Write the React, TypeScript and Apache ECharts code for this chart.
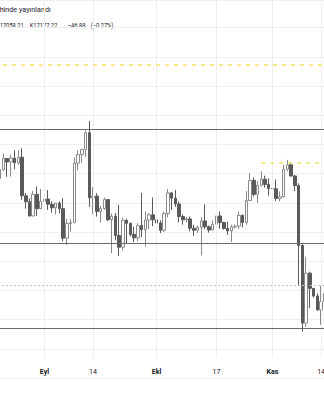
import { useEffect, useRef } from 'react';
import * as echarts from 'echarts';

// Daily candles, first one is 2022-08-19 (one per calendar day)
const FIRST_DAY_UTC = [2022, 7, 19];

const opens = [
  23200, 20830, 21140, 21520, 21400, 21530, 21370, 21560, 20240, 20040, 19550, 20290, 19800,
  20050, 20130, 19950, 19830, 19990, 19800, 18790, 19290, 19320, 21360, 21650, 21830, 22400,
  20170, 20230, 19700, 19800, 20110, 19420, 19540, 18880, 18480, 19400, 19300, 18920, 18800,
  19220, 19080, 19410, 19590,
  19420, 19310, 19060, 19630, 20340, 20160, 19960, 19530, 19420, 19450, 19130, 19060, 19160,
  19380, 19180, 19070, 19270, 19550, 19330, 19120, 19040, 19170, 19200, 19570, 19330, 20080,
  20770, 20290, 20600, 20810, 20630,
  20490, 20480, 20150, 20210, 21150, 21300, 20920, 20590, 18540, 15880, 17590, 17070, 16810,
  16330, 16620,
];
const highs = [
  23210, 21370, 21690, 21520, 21650, 21800, 21800, 21870, 20340, 20150, 20400, 20560, 20470,
  20200, 20440, 20050, 20000, 20050, 20160, 19450, 19450, 21550, 21800, 21850, 22480, 22800,
  20540, 20330, 19900, 20180, 20120, 19630, 19650, 19930, 19490, 19450, 19320, 19180, 19300,
  20340, 19700, 19650, 20180,
  19480, 19400, 19700, 20470, 20360, 20440, 20050, 19600, 19520, 19530, 19250, 19220, 19510,
  19950, 19220, 19400, 19680, 19700, 19350, 19350, 19250, 19250, 19700, 19600, 20400, 21020,
  20870, 20740, 21080, 20930, 20840,
  20700, 20800, 20390, 21300, 21470, 21370, 20960, 20670, 18600, 18150, 17640, 17080, 16900,
  17160, 17050,
];
const lows = [
  20780, 20800, 21100, 20890, 20900, 21150, 21300, 20100, 19800, 19530, 19540, 19550, 19780,
  19630, 19760, 19660, 19600, 19640, 18680, 18550, 19020, 19300, 21110, 21370, 21570, 19860,
  19620, 19530, 19330, 19760, 19380, 18270, 18720, 18180, 18370, 18600, 18850, 18650, 18680,
  18820, 18500, 19100, 19200,
  19160, 18960, 19000, 19500, 19760, 19860, 19330, 19250, 19330, 19020, 18870, 18970, 18200,
  19100, 18980, 19060, 19160, 19110, 19080, 18900, 18660, 19120, 19100, 19160, 19250, 20060,
  20220, 20000, 20560, 20520, 20250,
  20340, 20060, 20050, 20180, 21080, 20900, 20400, 17170, 15590, 15750, 16400, 16750, 16300,
  15820, 16550,
];
const closes = [
  20830, 21140, 21520, 21400, 21530, 21370, 21560, 20240, 20040, 19550, 20290, 19800, 20050,
  20130, 19950, 19830, 19990, 19800, 18790, 19290, 19320, 21360, 21650, 21830, 22400, 20170,
  20230, 19700, 19800, 20110, 19420, 19540, 18880, 18480, 19400, 19300, 18920, 18800, 19220,
  19080, 19410, 19590, 19420,
  19310, 19060, 19630, 20340, 20160, 19960, 19530, 19420, 19450, 19130, 19060, 19160, 19380,
  19180, 19070, 19270, 19550, 19330, 19120, 19040, 19170, 19200, 19570, 19330, 20080, 20770,
  20290, 20600, 20810, 20630, 20490,
  20480, 20150, 20210, 21150, 21300, 20920, 20590, 18540, 15880, 17590, 17070, 16810, 16330,
  16620, 16900,
];

const tickDates = ['2022-09-01', '2022-09-14', '2022-10-01', '2022-10-17', '2022-11-01', '2022-11-14'];
const tickTexts = ['Eyl', '14', 'Ekl', '17', 'Kas', '14'];

const supportResistance = [22517, 18612, 15705];
const previousHigh = 24719;
const recentHigh = 21373;
const recentHighFrom = '2022-10-29';
const recentHighTo = '2022-11-15';
const lastClose = 17177.22;

const legendTitle = 'hinde yayınlandı';
const legendValues = ['17058.21', 'K17177.22', '−46.88', '(−0.27%)'];

const Y_MIN = 14000;
const Y_MAX = 26946.5;
const Y_STEP = 1000;
const V_GRID_BOTTOM = 14684;

const dates = opens.map((_, i) =>
  new Date(Date.UTC(FIRST_DAY_UTC[0], FIRST_DAY_UTC[1], FIRST_DAY_UTC[2] + i)).toISOString().slice(0, 10)
);

// layout: one day = 3.75px, the visible window starts 5.625px into the plot
const BAND = 3.75;
const SHIFT = 5.625;

export default function App() {
  const ref = useRef<HTMLDivElement>(null);

  useEffect(() => {
    if (!ref.current) return;
    const chart = echarts.init(ref.current, undefined, { renderer: 'svg' });
    const textColor = '#1f222b';
    const legendX = [0, 30, 68, 91];

    chart.setOption({
      animation: false,
      backgroundColor: '#ffffff',
      grid: { left: 0, right: 0, top: 0, bottom: 22 },
      xAxis: {
        type: 'category',
        data: dates,
        boundaryGap: true,
        axisLine: { show: false },
        axisTick: { show: false },
        splitLine: { show: false },
        axisLabel: {
          interval: (_i: number, v: string) => tickDates.includes(v),
          formatter: (v: string) => {
            const t = tickTexts[tickDates.indexOf(v)] ?? '';
            return /\d/.test(t) ? t : `{b|${t}}`;
          },
          margin: -6,
          verticalAlign: 'middle',
          fontSize: 7,
          fontFamily: 'Roboto',
          color: '#131722',
          hideOverlap: false,
          rich: {
            b: { fontSize: 7, fontFamily: 'Roboto', fontWeight: 'bold', color: '#131722' },
          },
        },
      },
      yAxis: {
        type: 'value',
        position: 'right',
        min: Y_MIN,
        max: Y_MAX,
        interval: Y_STEP,
        axisLine: { show: false },
        axisTick: { show: false },
        axisLabel: { show: false },
        splitLine: { lineStyle: { color: '#efefef', width: 1 } },
      },
      series: [
        {
          type: 'line',
          data: [],
          z: 1,
          silent: true,
          markLine: {
            silent: true,
            symbol: 'none',
            label: { show: false },
            data: [
              ...tickDates.map((d) => [
                { coord: [d, Y_MAX], lineStyle: { color: '#efefef', width: 1, type: 'solid' } },
                { coord: [d, V_GRID_BOTTOM] },
              ]),
              { yAxis: lastClose, lineStyle: { color: '#c4c4c4', width: 1, type: [2, 2] } },
              ...supportResistance.map((v) => ({
                yAxis: v,
                lineStyle: { color: '#6a6a6a', width: 1, type: 'solid' },
              })),
              { yAxis: previousHigh, lineStyle: { color: '#f2e35e', width: 1.5, type: [4, 5] } },
              [
                { coord: [recentHighFrom, recentHigh], lineStyle: { color: '#f2e35e', width: 1.5, type: [4, 5] } },
                { coord: [recentHighTo, recentHigh] },
              ],
            ],
          },
        },
        {
          type: 'candlestick',
          z: 3,
          barWidth: 3,
          data: dates.map((_, i) => [opens[i], closes[i], lows[i], highs[i]]),
          itemStyle: {
            color: '#ffffff',
            color0: '#5a5a5a',
            borderColor: '#8a8a8a',
            borderColor0: '#5a5a5a',
            borderWidth: 1,
          },
        },
      ],
      graphic: [
        {
          type: 'text',
          x: SHIFT,
          y: 9,
          silent: true,
          style: { text: legendTitle, fontSize: 7.2, fontFamily: 'Roboto', fill: textColor, verticalAlign: 'middle' },
        },
        ...legendValues.map((t, i) => ({
          type: 'text',
          x: SHIFT + legendX[i],
          y: 25.5,
          scaleX: 0.72,
          silent: true,
          style: { text: t, fontSize: 8, fontFamily: 'Roboto', fill: textColor, verticalAlign: 'middle' },
        })),
      ],
    });

    return () => chart.dispose();
  }, []);

  return (
    <div
      style={{
        position: 'fixed',
        left: 0,
        top: 0,
        width: 324,
        height: 400,
        overflow: 'hidden',
        background: '#fff',
      }}
    >
      <div
        ref={ref}
        style={{ position: 'absolute', left: -SHIFT, top: 0, width: dates.length * BAND, height: 400 }}
      />
    </div>
  );
}
